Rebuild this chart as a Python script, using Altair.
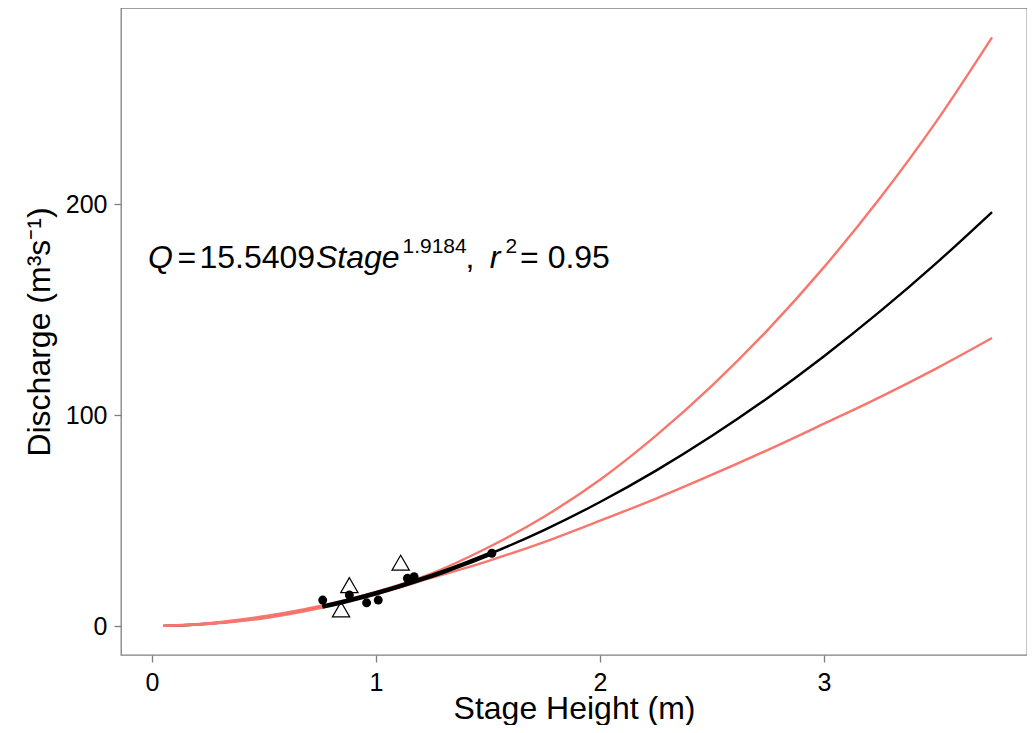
import altair as alt
import pandas as pd

# Fitted rating curve and bootstrap band
stage_grid = [0.05, 0.25, 0.5, 0.75, 1.0, 1.25, 1.5, 1.75, 2.0, 2.25, 2.5, 2.75, 3.0, 3.25, 3.5, 3.75]
fit_q = [0.05, 1.09, 4.11, 8.95, 15.54, 23.84, 33.83, 45.47, 58.75, 73.64, 90.14, 108.21, 127.88, 149.09, 171.88, 196.2]
upper_q = [0.07, 1.3, 4.6, 9.5, 16.2, 25.0, 37.2, 51.8, 69.3, 90.2, 113.9, 140.5, 170.1, 202.8, 238.9, 279.0]
lower_q = [0.04, 0.93, 3.7, 8.5, 15.1, 22.9, 30.8, 39.8, 49.9, 60.4, 71.7, 83.5, 95.9, 108.5, 122.0, 136.5]

# Fitted curve over the observed range
seg_stage = [0.76, 0.9, 1.0, 1.1, 1.2, 1.3, 1.4, 1.52]
seg_q = [9.18, 12.70, 15.54, 18.66, 22.05, 25.71, 29.63, 34.70]

# Observations
circle_stage = [0.762, 0.881, 0.958, 1.01, 1.14, 1.17, 1.517]
circle_q = [12.3, 14.7, 11.0, 12.3, 22.6, 23.4, 34.5]
triangle_stage = [0.844, 0.881, 1.11]
triangle_q = [7.9, 19.4, 30.0]

x_ticks = [0, 1, 2, 3]
y_ticks = [0, 100, 200]

# Equation annotation pieces
eq_normal_text = ["=", "15.5409", ",", "= 0.95"]
eq_normal_stage = [0.114, 0.212, 1.40, 1.643]
eq_italic_text = ["Q", "Stage", "r"]
eq_italic_stage = [-0.018, 0.732, 1.508]
eq_sup_text = ["1.9184", "2"]
eq_sup_stage = [1.118, 1.578]
eq_base_q = 169.7
eq_sup_q = 176.8

FONT = "Liberation Sans"
RED = "#F8766D"

xs = alt.Scale(domain=[-0.1384, 3.906], nice=False, zero=False)
ys = alt.Scale(domain=[-13.74, 292.9], nice=False, zero=False)
xax = alt.Axis(values=x_ticks, format="d", title="Stage Height (m)")
yax = alt.Axis(values=y_ticks, format="d", title="Discharge (m³s⁻¹)")

def X():
    return alt.X("stage:Q", scale=xs, axis=xax)

def Y():
    return alt.Y("q:Q", scale=ys, axis=yax)

curve = pd.DataFrame({"stage": stage_grid, "fit": fit_q, "upper": upper_q, "lower": lower_q})
seg = pd.DataFrame({"stage": seg_stage, "q": seg_q})
circles = pd.DataFrame({"stage": circle_stage, "q": circle_q})
tris = pd.DataFrame({"stage": triangle_stage, "q": triangle_q})

fit_line = alt.Chart(curve).transform_calculate(q="datum.fit").mark_line(
    color="black", strokeWidth=2.4, interpolate="monotone").encode(x=X(), y=Y())
up_line = alt.Chart(curve).transform_calculate(q="datum.upper").mark_line(
    color=RED, strokeWidth=2.4, interpolate="monotone").encode(x=X(), y=Y())
lo_line = alt.Chart(curve).transform_calculate(q="datum.lower").mark_line(
    color=RED, strokeWidth=2.4, interpolate="monotone").encode(x=X(), y=Y())
seg_line = alt.Chart(seg).mark_line(
    color="black", strokeWidth=4.5, interpolate="monotone").encode(x=X(), y=Y())
pts = alt.Chart(circles).mark_point(
    shape="circle", filled=True, color="black", size=80, opacity=1).encode(x=X(), y=Y())
tri_pts = alt.Chart(tris).mark_point(
    shape="triangle-up", filled=False, stroke="black", strokeWidth=1.2, size=300, opacity=1
).encode(x=X(), y=Y())

t_norm = alt.Chart(pd.DataFrame({"stage": eq_normal_stage, "q": [eq_base_q] * 4, "t": eq_normal_text})).mark_text(
    font=FONT, fontSize=32, align="left", baseline="alphabetic", color="black"
).encode(x=X(), y=Y(), text="t:N")
t_ital = alt.Chart(pd.DataFrame({"stage": eq_italic_stage, "q": [eq_base_q] * 3, "t": eq_italic_text})).mark_text(
    font=FONT, fontSize=32, fontStyle="italic", align="left", baseline="alphabetic", color="black"
).encode(x=X(), y=Y(), text="t:N")
t_sup = alt.Chart(pd.DataFrame({"stage": eq_sup_stage, "q": [eq_sup_q] * 2, "t": eq_sup_text})).mark_text(
    font=FONT, fontSize=21, align="left", baseline="alphabetic", color="black"
).encode(x=X(), y=Y(), text="t:N")

chart = alt.layer(
    fit_line, up_line, lo_line, seg_line, pts, tri_pts, t_norm, t_ital, t_sup
).properties(
    width=906, height=647,
    autosize=alt.AutoSizeParams(type="none"),
    padding={"left": 113, "top": 0, "right": 0, "bottom": 70},
).configure_view(
    stroke="#7F7F7F", strokeWidth=1.3
).configure_axis(
    domain=False, grid=False, tickColor="#7F7F7F", tickSize=7, tickWidth=1.3,
    labelFont=FONT, labelFontSize=25, labelColor="black", labelPadding=8,
    titleFont=FONT, titleFontSize=32, titleFontWeight="normal", titleColor="black",
).configure_axisY(titlePadding=9, labelPadding=7).configure_axisX(titlePadding=-2, labelPadding=8)

chart.save("out.html", embed_options={"renderer": "svg", "actions": False})
